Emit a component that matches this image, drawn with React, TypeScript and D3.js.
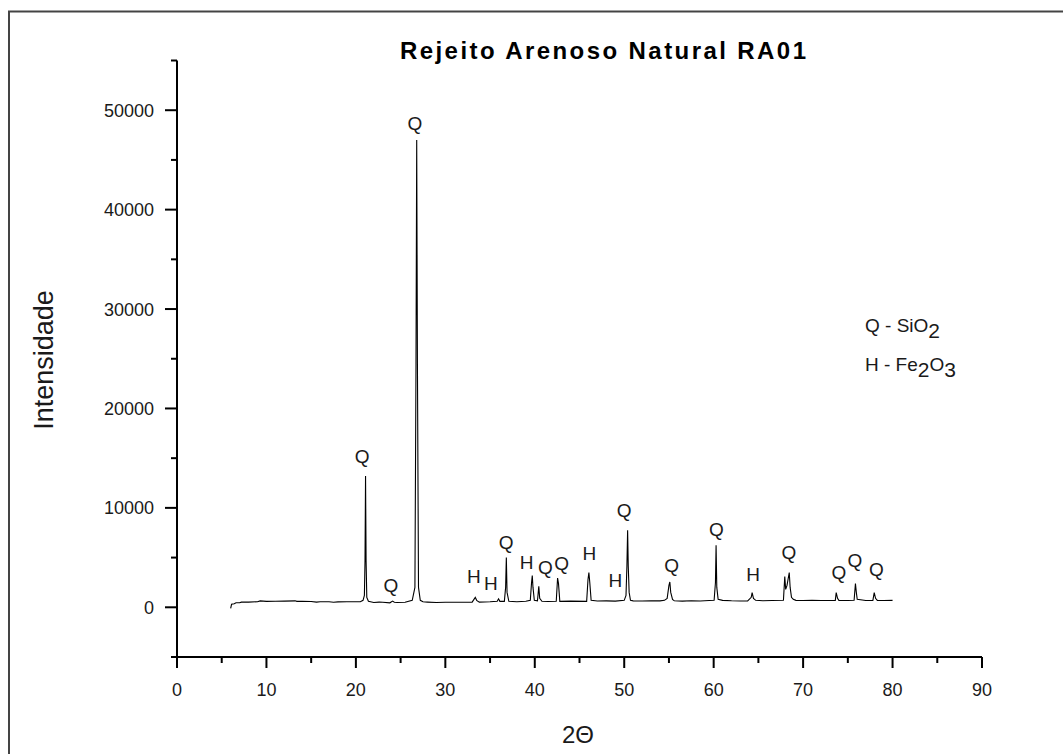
import React from "react";
import * as d3 from "d3";

const title = "Rejeito Arenoso Natural RA01";
const xTicks = [0, 10, 20, 30, 40, 50, 60, 70, 80, 90];
const yTicks = [0, 10000, 20000, 30000, 40000, 50000];

const twoTheta = [
  6.0, 6.1, 6.4, 6.6, 7.0, 7.2, 8.0, 9.0, 9.3, 10.0, 11.0, 12.0, 13.2, 13.4, 14.0, 15.0, 15.6, 16.0, 17.0, 17.5, 18.0, 19.0, 20.5,
  20.8, 20.95, 21.02, 21.08, 21.14, 21.22, 21.4, 22.0, 22.6, 23.0, 23.8, 24.1, 24.3, 24.6, 25.5, 26.3, 26.6, 26.72, 26.8, 26.88, 27.0, 27.2, 27.5,
  28.0, 29.0, 30.0, 31.0, 32.0, 33.0, 33.2, 33.35, 33.5, 33.8, 35.0, 35.8, 35.95, 36.1, 36.6, 36.74, 36.82, 36.9, 37.1,
  38.0, 39.0, 39.5, 39.64, 39.72, 39.8, 39.95, 40.3, 40.45, 40.55, 40.8, 41.5, 42.4, 42.55, 42.65, 42.8, 44.0, 45.8, 45.95, 46.05, 46.15, 46.3,
  47.0, 48.0, 49.0, 50.0, 50.2, 50.3, 50.38, 50.45, 50.55, 50.7, 51.0, 52.0, 53.0, 54.0, 54.5, 54.8, 55.0, 55.1, 55.2, 55.4, 55.6,
  56.5, 57.5, 58.5, 59.5, 60.05, 60.2, 60.27, 60.35, 60.5, 61.0, 62.0, 63.0, 63.8, 64.2, 64.3, 64.45, 64.7, 65.5, 66.5,
  67.8, 67.95, 68.05, 68.2, 68.45, 68.55, 68.7, 68.9, 69.2, 70.0, 71.0, 72.0, 73.6, 73.7, 73.85, 74.0, 75.0, 75.7, 75.85, 75.95, 76.05,
  77.0, 77.8, 77.95, 78.1, 78.3, 79.0, 80.0,
];
const intensity = [
  -100, 300, 350, 450, 450, 520, 520, 560, 640, 600, 610, 620, 650, 600, 610, 580, 520, 560, 560, 500, 540, 560, 560,
  700, 1200, 4700, 13200, 4700, 1000, 600, 480, 520, 500, 450, 620, 500, 480, 500, 700, 2000, 24500, 47000, 24500, 2000, 700, 550,
  520, 480, 500, 510, 500, 520, 800, 1000, 700, 520, 550, 600, 850, 600, 600, 2000, 5000, 1500, 600,
  560, 600, 700, 2500, 3200, 2000, 700, 650, 2100, 900, 600, 580, 600, 2950, 2400, 600, 620, 600, 2800, 3500, 2500, 700,
  640, 650, 620, 700, 1200, 4150, 7750, 4150, 1500, 700, 650, 640, 660, 650, 700, 900, 2200, 2550, 1500, 800, 650,
  620, 660, 640, 680, 700, 2500, 6240, 2000, 800, 700, 660, 640, 650, 1000, 1480, 900, 700, 660, 680,
  700, 3100, 1800, 2200, 3500, 2000, 1000, 800, 700, 690, 700, 680, 700, 1480, 900, 700, 680, 700, 2380, 1500, 800,
  690, 700, 1480, 900, 700, 690, 700,
];

const peakLabels = ["Q", "Q", "Q", "H", "H", "Q", "H", "Q", "Q", "H", "H", "Q", "Q", "Q", "H", "Q", "Q", "Q", "Q"];
const labelTheta = [20.7, 23.9, 26.6, 33.2, 35.1, 36.8, 39.1, 41.2, 43.0, 46.1, 49.0, 50.0, 55.3, 60.3, 64.4, 68.4, 74.0, 75.8, 78.2];
const labelIntensity = [14500, 1500, 48000, 2400, 1700, 5900, 3900, 3300, 3800, 4800, 2000, 9100, 3600, 7150, 2600, 4900, 2800, 4100, 3100];

export default function App() {
  const W = 1063, H = 754;
  const x = d3.scaleLinear().domain([0, 90]).range([177, 982]);
  const y = d3.scaleLinear().domain([-5000, 55000]).range([657, 60.5]);
  const pts = twoTheta.map((t, i) => [t, intensity[i]] as [number, number]);
  const line = d3.line<[number, number]>().x((d) => x(d[0])).y((d) => y(d[1]));
  const xMinor = d3.range(5, 90, 10);
  const yMinor = d3.range(-5000, 55001, 10000);
  const font = "'Liberation Sans', Arial, sans-serif";
  const txt = "#1a1a1a";
  return (
    <svg width={W} height={H} style={{ position: "absolute", left: 0, top: 0, background: "#fff" }} fontFamily={font}>
      <line x1={8} y1={11.5} x2={W} y2={11.5} stroke="#444" strokeWidth={2} />
      <line x1={9} y1={11} x2={9} y2={H} stroke="#444" strokeWidth={2} />
      <text x={603} y={59} fontSize={24} fontWeight="bold" textAnchor="middle" textLength={406} lengthAdjust="spacing" fill="#000">{title}</text>
      {/* axes */}
      <line x1={x(0)} y1={y(-5000)} x2={x(0)} y2={y(55000)} stroke="#000" strokeWidth={2} />
      <line x1={x(0) - 6} y1={y(-5000)} x2={x(90)} y2={y(-5000)} stroke="#000" strokeWidth={2} />
      {xTicks.map((t) => (
        <g key={"xt" + t}>
          <line x1={x(t)} x2={x(t)} y1={y(-5000)} y2={y(-5000) + 11} stroke="#000" strokeWidth={2} />
          <text x={x(t)} y={696} fontSize={18} textAnchor="middle" fill={txt}>{t}</text>
        </g>
      ))}
      {xMinor.map((t) => (
        <line key={"xm" + t} x1={x(t)} x2={x(t)} y1={y(-5000)} y2={y(-5000) + 6} stroke="#000" strokeWidth={2} />
      ))}
      {yTicks.map((t) => (
        <g key={"yt" + t}>
          <line x1={x(0) - 12} x2={x(0)} y1={y(t)} y2={y(t)} stroke="#000" strokeWidth={2} />
          <text x={154} y={y(t) + 6.5} fontSize={18} textAnchor="end" fill={txt}>{t}</text>
        </g>
      ))}
      {yMinor.map((t) => (
        <line key={"ym" + t} x1={x(0) - 6} x2={x(0)} y1={y(t)} y2={y(t)} stroke="#000" strokeWidth={2} />
      ))}
      <path d={line(pts) || ""} fill="none" stroke="#000" strokeWidth={1.1} />
      {peakLabels.map((l, i) => (
        <text key={"pl" + i} x={x(labelTheta[i])} y={y(labelIntensity[i])} fontSize={19} textAnchor="middle" fill={txt}>{l}</text>
      ))}
      <text x={865} y={332} fontSize={19} fill={txt}>Q - SiO<tspan dy={6} fontSize={21}>2</tspan></text>
      <text x={865} y={371} fontSize={19} fill={txt}>H - Fe<tspan dy={6} fontSize={21}>2</tspan><tspan dy={-6}>O</tspan><tspan dy={6} fontSize={21}>3</tspan></text>
      <text transform="translate(53,360) rotate(-90)" fontSize={27} textAnchor="middle" fill={txt}>Intensidade</text>
      <text x={578} y={743} fontSize={24} textAnchor="middle" fill={txt}>2Θ</text>
    </svg>
  );
}
